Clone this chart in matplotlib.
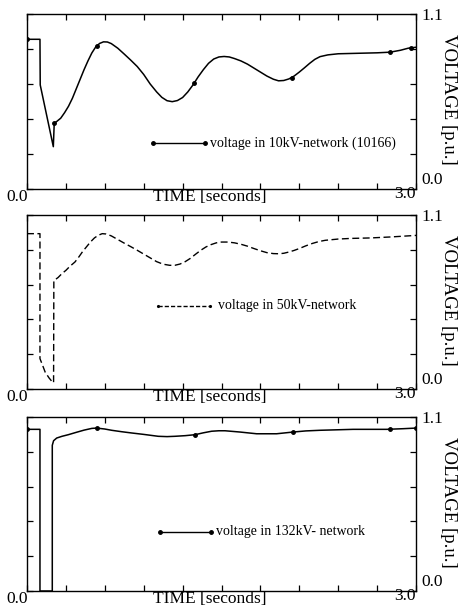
import matplotlib
matplotlib.use("Agg")
import matplotlib.pyplot as plt
import numpy as np

plt.rcParams['font.family'] = ['Liberation Serif', 'DejaVu Serif']

# ---- data: 10 kV network ----
t10 = [0.0, 0.10, 0.102, 0.203, 0.21, 0.23, 0.26, 0.29, 0.32, 0.35, 0.38, 0.41, 0.44,
       0.47, 0.50, 0.53, 0.56, 0.59, 0.62, 0.65, 0.70, 0.75, 0.80, 0.85, 0.90, 0.95,
       1.00, 1.04, 1.08, 1.12, 1.16, 1.20, 1.24, 1.28, 1.32, 1.36, 1.40, 1.44, 1.48,
       1.52, 1.56, 1.60, 1.65, 1.70, 1.75, 1.80, 1.85, 1.90, 1.94, 1.98, 2.02, 2.06,
       2.10, 2.14, 2.18, 2.22, 2.26, 2.32, 2.40, 2.50, 2.60, 2.70, 2.80, 2.88, 2.94, 3.0]
v10 = [0.941, 0.941, 0.654, 0.266, 0.413, 0.425, 0.445, 0.48, 0.52, 0.57, 0.63, 0.69, 0.75,
       0.805, 0.855, 0.893, 0.915, 0.925, 0.924, 0.914, 0.885, 0.848, 0.81, 0.77, 0.72, 0.66,
       0.61, 0.576, 0.555, 0.549, 0.556, 0.575, 0.61, 0.654, 0.705, 0.75, 0.79, 0.817, 0.83,
       0.833, 0.83, 0.82, 0.805, 0.785, 0.76, 0.735, 0.71, 0.69, 0.68, 0.682, 0.692, 0.71,
       0.735, 0.762, 0.79, 0.815, 0.832, 0.843, 0.85, 0.852, 0.854, 0.856, 0.86, 0.872, 0.885, 0.891]
t10_mk = [0.0, 0.21, 0.537, 1.29, 2.04, 2.80, 2.96]
v10_mk = [0.941, 0.413, 0.899, 0.665, 0.70, 0.86, 0.888]

# ---- data: 50 kV network ----
t50 = [0.0, 0.10, 0.10, 0.12, 0.14, 0.17, 0.20, 0.205, 0.207, 0.24, 0.27, 0.30, 0.33,
       0.37, 0.40, 0.43, 0.46, 0.49, 0.52, 0.55, 0.58, 0.61, 0.65, 0.70, 0.75, 0.80,
       0.85, 0.90, 0.95, 1.00, 1.05, 1.10, 1.14, 1.18, 1.22, 1.26, 1.30, 1.34, 1.38,
       1.42, 1.46, 1.50, 1.55, 1.60, 1.65, 1.70, 1.75, 1.80, 1.85, 1.90, 1.94, 1.98,
       2.02, 2.06, 2.10, 2.15, 2.20, 2.25, 2.30, 2.40, 2.50, 2.65, 2.80, 2.90, 3.0]
v50 = [0.982, 0.982, 0.192, 0.15, 0.107, 0.07, 0.04, 0.04, 0.685, 0.705, 0.73, 0.75, 0.775,
       0.803, 0.835, 0.87, 0.90, 0.93, 0.955, 0.972, 0.982, 0.98, 0.968, 0.945, 0.922, 0.90,
       0.877, 0.853, 0.829, 0.805, 0.789, 0.782, 0.782, 0.79, 0.805, 0.826, 0.852, 0.877, 0.898,
       0.913, 0.924, 0.929, 0.929, 0.924, 0.915, 0.903, 0.888, 0.874, 0.862, 0.856, 0.855, 0.858,
       0.866, 0.876, 0.888, 0.905, 0.92, 0.932, 0.94, 0.948, 0.952, 0.955, 0.961, 0.966, 0.971]

# ---- data: 132 kV network ----
t132 = [0.0, 0.10, 0.10, 0.195, 0.195, 0.205, 0.229, 0.27, 0.318, 0.38, 0.44, 0.50, 0.537,
        0.60, 0.653, 0.73, 0.807, 0.90, 1.012, 1.08, 1.141, 1.22, 1.295, 1.36, 1.424, 1.48,
        1.527, 1.642, 1.771, 1.925, 2.053, 2.15, 2.259, 2.516, 2.773, 2.90, 3.0]
v132 = [1.022, 1.022, 0.0, 0.0, 0.921, 0.95, 0.967, 0.978, 0.988, 1.003, 1.017, 1.028, 1.030,
        1.024, 1.016, 1.007, 0.999, 0.99, 0.978, 0.976, 0.978, 0.982, 0.988, 1.0, 1.010, 1.013,
        1.013, 1.005, 0.994, 0.994, 1.005, 1.012, 1.016, 1.022, 1.022, 1.026, 1.030]
t132_mk = [0.0, 0.537, 1.295, 2.053, 2.80, 3.0]
v132_mk = [1.022, 1.030, 0.988, 1.005, 1.023, 1.030]

labels = ["voltage in 10kV-network (10166)", "voltage in 50kV-network",
          "voltage in 132kV- network"]
# legend sample positions (time start, time end, voltage)
leg_t = [(0.974, 1.372), (1.012, 1.411), (1.025, 1.416)]
leg_v = [0.287, 0.525, 0.375]

xticks = np.arange(0, 3.01, 0.3)
yticks = np.arange(0, 1.101, 0.22)

W, H = 458, 614
fig = plt.figure(figsize=(W / 100, H / 100), dpi=100)

panels = [(14, 189), (215, 389), (417, 591)]
L, R = 27, 416
axes = []
for (top, bot) in panels:
    ax = fig.add_axes([L / W, 1 - bot / H, (R - L) / W, (bot - top) / H])
    axes.append(ax)

for i, ax in enumerate(axes):
    ax.set_xlim(0, 3.0)
    ax.set_ylim(0, 1.1)
    ax.set_xticks(xticks)
    ax.set_yticks(yticks)
    ax.tick_params(direction='in', length=4, width=0.9, top=True, right=True,
                   labelbottom=False, labelleft=False, color='black')
    for s in ax.spines.values():
        s.set_linewidth(1.0)
        s.set_color('black')

    ax.text(-0.026, -0.048, "0.0", transform=ax.transAxes, ha='center', va='center', fontsize=12.5)
    ax.text(0.47, -0.048, "TIME [seconds]", transform=ax.transAxes, ha='center', va='center', fontsize=12.5)
    ax.text(0.972, -0.026, "3.0", transform=ax.transAxes, ha='center', va='center', fontsize=12.5)
    ax.text(1.042, 0.99, "1.1", transform=ax.transAxes, ha='center', va='center', fontsize=12.5)
    ax.text(1.042, 0.05, "0.0", transform=ax.transAxes, ha='center', va='center', fontsize=12.5)
    ax.text(1.083, 0.51, "VOLTAGE [p.u.]", transform=ax.transAxes, ha='center', va='center',
            fontsize=13.5, rotation=-90)

# panel 1
ax = axes[0]
ax.plot(t10, v10, color='black', lw=1.1)
ax.plot(t10_mk, v10_mk, 'o', color='black', ms=2.5, ls='none')
ax.plot(leg_t[0], [leg_v[0]] * 2, color='black', lw=1.0, marker='o', ms=2.5)
ax.text(leg_t[0][1] + 0.04, leg_v[0], labels[0], ha='left', va='center', fontsize=10)

# panel 2
ax = axes[1]
ax.plot(t50, v50, color='black', lw=1.0, dashes=(5, 2.5))
ax.plot(leg_t[1], [leg_v[1]] * 2, color='black', lw=1.0, dashes=(3, 1.5), marker='.', ms=2.5)
ax.text(leg_t[1][1] + 0.06, leg_v[1], labels[1], ha='left', va='center', fontsize=10)

# panel 3
ax = axes[2]
ax.plot(t132, v132, color='black', lw=1.1)
ax.plot(t132_mk, v132_mk, 'o', color='black', ms=2.5, ls='none')
ax.plot(leg_t[2], [leg_v[2]] * 2, color='black', lw=1.0, marker='o', ms=2.5)
ax.text(leg_t[2][1] + 0.045, leg_v[2], labels[2], ha='left', va='center', fontsize=10)

fig.savefig("out.png", dpi=100)
